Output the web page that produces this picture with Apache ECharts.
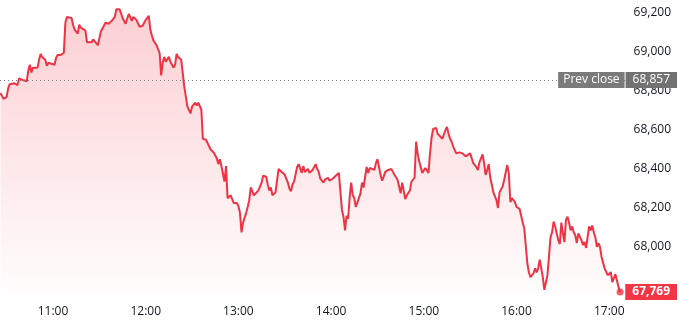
<!DOCTYPE html>
<html>
<head>
<meta charset="utf-8">
<script src="https://cdn.jsdelivr.net/npm/echarts@6/dist/echarts.min.js"></script>
<style>
html,body{margin:0;padding:0;background:#fff;}
#chart{width:686px;height:325px;}
</style>
</head>
<body>
<div id="chart"></div>
<script>
const times = [
'10:26','10:27','10:28','10:30','10:31','10:32','10:33','10:35','10:37','10:38','10:39','10:41','10:43','10:44','10:45','10:46','10:47','10:48','10:50','10:51','10:52','10:53','10:55','10:56','10:57','10:59',
'11:01','11:02','11:03','11:05','11:06','11:07','11:08','11:09','11:10','11:12','11:13','11:14','11:15','11:16','11:17','11:18','11:19','11:21','11:22','11:23','11:25','11:26','11:27','11:29','11:30','11:31','11:32','11:34','11:35','11:36','11:37','11:38','11:39','11:40','11:41','11:43','11:44','11:45','11:47','11:48','11:49','11:50','11:51','11:52','11:53','11:54','11:55','11:56','11:58','11:59',
'12:00','12:01','12:02','12:03','12:04','12:05','12:06','12:07','12:08','12:09','12:10','12:11','12:12','12:13','12:14','12:15','12:16','12:17','12:18','12:19','12:20','12:21','12:22','12:23','12:24','12:25','12:27','12:28','12:29','12:30','12:31','12:32','12:33','12:34','12:35','12:36','12:37','12:39','12:40','12:42','12:43','12:44','12:45','12:46','12:47','12:48','12:49','12:50','12:51','12:52','12:53','12:54','12:55','12:56','12:57','12:58','12:59',
'13:00','13:01','13:02','13:03','13:04','13:05','13:06','13:07','13:08','13:09','13:10','13:11','13:13','13:14','13:15','13:16','13:17','13:18','13:19','13:20','13:21','13:22','13:23','13:24','13:25','13:26','13:28','13:29','13:30','13:32','13:33','13:34','13:35','13:36','13:37','13:38','13:39','13:40','13:41','13:42','13:43','13:44','13:45','13:46','13:48','13:49','13:50','13:51','13:52','13:53','13:54','13:55','13:56','13:57','13:58','13:59',
'14:01','14:02','14:03','14:04','14:05','14:06','14:07','14:08','14:09','14:10','14:11','14:12','14:13','14:14','14:15','14:16','14:17','14:19','14:20','14:21','14:22','14:23','14:24','14:25','14:26','14:28','14:29','14:30','14:31','14:32','14:33','14:34','14:35','14:37','14:39','14:40','14:41','14:43','14:44','14:45','14:46','14:47','14:48','14:49','14:50','14:51','14:52','14:53','14:54','14:55','14:56','14:57','14:58','14:59',
'15:00','15:01','15:02','15:03','15:04','15:05','15:06','15:07','15:08','15:09','15:10','15:12','15:13','15:14','15:15','15:16','15:17','15:18','15:19','15:20','15:21','15:22','15:23','15:25','15:26','15:27','15:28','15:30','15:31','15:32','15:33','15:34','15:35','15:36','15:37','15:38','15:39','15:40','15:41','15:42','15:43','15:44','15:45','15:46','15:47','15:48','15:49','15:51','15:52','15:53','15:54','15:55','15:56','15:57','15:58','15:59',
'16:00','16:01','16:02','16:03','16:04','16:05','16:06','16:07','16:08','16:09','16:10','16:11','16:12','16:13','16:14','16:15','16:16','16:17','16:18','16:20','16:21','16:22','16:23','16:24','16:25','16:26','16:27','16:28','16:29','16:30','16:31','16:32','16:33','16:34','16:35','16:36','16:37','16:38','16:39','16:40','16:42','16:43','16:44','16:45','16:46','16:47','16:48','16:49','16:50','16:51','16:52','16:53','16:54','16:55','16:56','16:57','16:58','16:59',
'17:00','17:01','17:02','17:04','17:05','17:06','17:07'
];
const prices = [
68790,68775,68760,68770,68815,68835,68825,68840,68830,68865,68860,68855,68850,68905,68935,68895,68920,68915,68920,68960,68990,68975,68960,68930,68945,68940,
68935,68970,68985,68985,68980,68995,69150,69180,69185,69175,69140,69115,69125,69095,69140,69125,69115,69110,69050,69050,69050,69065,69075,69035,69070,69105,69115,69150,69150,69145,69150,69160,69155,69180,69220,69220,69200,69175,69145,69150,69195,69180,69160,69180,69175,69165,69155,69130,69135,69150,
69165,69175,69185,69115,69085,69060,69050,69035,69025,68995,68880,68945,68975,68950,68940,68975,68950,68945,68920,68935,68990,68975,68965,68960,68950,68820,68720,68715,68685,68720,68725,68740,68725,68740,68730,68705,68555,68550,68540,68500,68510,68485,68480,68455,68425,68450,68415,68410,68335,68415,68250,68260,68265,68255,68225,68220,68225,
68210,68175,68075,68125,68150,68175,68205,68240,68305,68310,68265,68275,68290,68280,68330,68365,68370,68360,68320,68290,68305,68265,68275,68280,68290,68400,68385,68385,68370,68330,68300,68285,68320,68335,68330,68410,68425,68430,68380,68415,68385,68395,68400,68380,68395,68405,68425,68400,68385,68350,68355,68330,68345,68340,68355,68340,
68350,68360,68365,68375,68380,68390,68190,68155,68085,68160,68145,68255,68330,68265,68250,68205,68205,68275,68330,68305,68360,68410,68380,68405,68410,68395,68430,68450,68410,68370,68340,68360,68385,68395,68400,68385,68370,68345,68310,68275,68330,68320,68245,68265,68265,68290,68335,68340,68355,68540,68480,68440,68430,68380,
68385,68405,68400,68380,68480,68560,68605,68615,68610,68580,68570,68555,68545,68600,68615,68580,68555,68540,68515,68510,68480,68490,68485,68480,68480,68465,68470,68480,68455,68430,68420,68410,68395,68435,68455,68475,68430,68370,68395,68425,68355,68320,68280,68275,68240,68200,68280,68310,68345,68340,68420,68380,68230,68250,68255,68230,
68205,68205,68195,68205,68125,68095,68100,67915,67870,67845,67845,67865,67890,67870,67890,67935,67890,67845,67780,67855,67950,68050,68075,68130,68105,68105,68035,68015,68125,68070,68025,68140,68155,68125,68085,68105,68075,68060,68020,68070,68035,68010,68025,67995,67985,68105,68085,68110,68075,68050,68000,68020,68000,67950,67945,67890,67895,67855,
67865,67870,67820,67860,67855,67795,67769
];
const prevClose = 68857;
const xTickLabels = ['11:00','12:00','13:00','14:00','15:00','16:00','17:00'];
const yTickValues = [68000, 68200, 68400, 68600, 68800, 69000, 69200];

const toMin = s => { const p = s.split(':'); return (+p[0]) * 60 + (+p[1]); };
const minToStr = m => { const h = Math.floor(m / 60), mm = Math.round(m - h * 60); return h + ':' + (mm < 10 ? '0' : '') + mm; };
const fmt = v => String(Math.round(v)).replace(/\B(?=(\d{3})+(?!\d))/g, ',');

const data = times.map((t, i) => [toMin(t), prices[i]]);
const last = data[data.length - 1];

const FONT = 'Open Sans';
const yMin = 67738, yMax = 69267;
const baseY = {
  type: 'value', position: 'right', min: yMin, max: yMax,
  axisLine: { show: false }, axisTick: { show: false }, splitLine: { show: false }
};

const chart = echarts.init(document.getElementById('chart'), null, { renderer: 'canvas' });
chart.setOption({
  animation: false,
  grid: { left: 0, right: 61, top: 0, bottom: 27 },
  xAxis: {
    type: 'value', min: 625.7, max: 1030.2,
    axisLine: { show: false }, axisTick: { show: false }, splitLine: { show: false },
    axisLabel: {
      customValues: xTickLabels.map(toMin),
      formatter: v => minToStr(v),
      color: '#131722', fontFamily: FONT, fontSize: 12, margin: 8
    }
  },
  yAxis: [
    Object.assign({}, baseY, {
      axisLabel: {
        customValues: yTickValues, formatter: v => fmt(v),
        align: 'right', margin: 46, color: '#131722', fontFamily: FONT, fontSize: 12
      }
    }),
    Object.assign({}, baseY, {
      z: 10,
      axisLabel: {
        customValues: [prevClose],
        formatter: () => '{a|Prev close}{s|}{b|' + fmt(prevClose) + '}',
        align: 'right', margin: 52, fontFamily: FONT, fontSize: 12,
        rich: {
          a: { backgroundColor: '#7a7a7a', color: '#fff', padding: [0, 5], height: 16, lineHeight: 16, fontFamily: FONT, fontSize: 12 },
          s: { width: 1, height: 16 },
          b: { backgroundColor: '#727272', color: '#fff', padding: [0, 7], height: 16, lineHeight: 16, fontFamily: FONT, fontSize: 12 }
        }
      }
    }),
    Object.assign({}, baseY, {
      z: 11,
      axisLabel: {
        customValues: [last[1]],
        formatter: v => '{r|' + fmt(v) + '}',
        align: 'right', margin: 52, fontFamily: FONT, fontSize: 12,
        rich: {
          r: { backgroundColor: '#f23645', color: '#fff', padding: [0, 7], height: 16, lineHeight: 16, fontFamily: FONT, fontSize: 12, fontWeight: 'bold' }
        }
      }
    })
  ],
  series: [
    {
      type: 'line', data: data, showSymbol: false, yAxisIndex: 0,
      lineStyle: { color: '#ee3444', width: 2 },
      areaStyle: {
        color: new echarts.graphic.LinearGradient(0, 0, 0, 1, [
          { offset: 0, color: 'rgba(242,54,69,0.34)' },
          { offset: 1, color: 'rgba(242,54,69,0.01)' }
        ])
      },
      markLine: {
        silent: true, symbol: 'none', label: { show: false },
        lineStyle: { type: [1, 3], color: '#7a7a7a', width: 1 },
        data: [{ yAxis: prevClose }]
      }
    },
    {
      type: 'scatter', data: [last], symbol: 'circle', symbolSize: 7, yAxisIndex: 0,
      itemStyle: { color: '#f23645' }, z: 5
    }
  ]
});
</script>
</body>
</html>
